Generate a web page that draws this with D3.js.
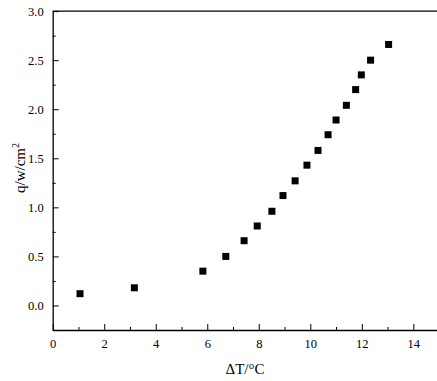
<!DOCTYPE html>
<html><head><meta charset="utf-8">
<script src="https://cdn.jsdelivr.net/npm/d3@7"></script>
<style>body{margin:0;background:#fff}svg{display:block}</style>
</head><body>
<script>
const xValues = [1.06, 3.17, 5.83, 6.72, 7.43, 7.94, 8.51, 8.94, 9.41, 9.87, 10.30, 10.69, 11.00, 11.40, 11.76, 11.98, 12.34, 13.04];
const yValues = [0.12, 0.18, 0.35, 0.50, 0.66, 0.81, 0.96, 1.12, 1.27, 1.43, 1.58, 1.74, 1.89, 2.04, 2.20, 2.35, 2.50, 2.66];
const xTicks = [0, 2, 4, 6, 8, 10, 12, 14];
const yTicks = [0.0, 0.5, 1.0, 1.5, 2.0, 2.5, 3.0];
const xLabel = "ΔT/°C";

(function () {
const W = 437, H = 381;
const FONT = "'Liberation Serif', 'Times New Roman', serif";
const svg = d3.select("body").append("svg").attr("width", W).attr("height", H);
const mLeft = 52.7, mTop = 11.1, mBottom = 330;
const x = d3.scaleLinear().domain([0, 15]).range([mLeft, mLeft + 25.76 * 15]);
const y = d3.scaleLinear().domain([-0.25, 3.0]).range([mBottom, mTop]);

// frame top
svg.append("line").attr("x1", x(0)).attr("x2", x(15)).attr("y1", y(3)).attr("y2", y(3)).attr("stroke", "#000").attr("stroke-width", 1.3);

const xMinor = d3.range(1, 15, 2);
const yMinor = d3.range(-0.25, 3.0, 0.5);

const gx = svg.append("g").attr("transform", `translate(0,${mBottom})`);
gx.call(d3.axisBottom(x).tickValues(xTicks).tickSize(-6).tickSizeOuter(0).tickPadding(9).tickFormat(d3.format("d")));
const gxm = svg.append("g").attr("transform", `translate(0,${mBottom})`);
gxm.call(d3.axisBottom(x).tickValues(xMinor).tickSize(-3).tickSizeOuter(0).tickFormat(""));
gxm.select(".domain").remove();

const gy = svg.append("g").attr("transform", `translate(${mLeft},0)`);
gy.call(d3.axisLeft(y).tickValues(yTicks).tickSize(-6).tickSizeOuter(0).tickPadding(9).tickFormat(d3.format(".1f")));
const gym = svg.append("g").attr("transform", `translate(${mLeft},0)`);
gym.call(d3.axisLeft(y).tickValues(yMinor).tickSize(-3).tickSizeOuter(0).tickFormat(""));
gym.select(".domain").remove();

svg.selectAll("g").attr("font-family", null);
svg.selectAll(".domain").attr("stroke-width", 1.3);
svg.selectAll(".tick line").attr("stroke-width", 1);
svg.selectAll(".tick text").style("font-size", "12.5px").style("font-family", FONT).attr("fill", "#000");

// points
const s = 7;
svg.append("g").selectAll("rect").data(xValues).join("rect")
  .attr("x", (d) => x(d) - s / 2)
  .attr("y", (d, i) => y(yValues[i]) - s / 2)
  .attr("width", s).attr("height", s).attr("fill", "#000");

// labels
svg.append("text").attr("x", 245).attr("y", 374).attr("text-anchor", "middle")
  .style("font-family", FONT).style("font-size", "15px").text(xLabel);
const yl = svg.append("text").attr("transform", "translate(25,168) rotate(-90)").attr("text-anchor", "middle")
  .style("font-family", FONT).style("font-size", "15px");
yl.append("tspan").text("q/w/cm");
yl.append("tspan").attr("dy", -6).style("font-size", "10px").text("2");
})();
</script>
</body></html>
